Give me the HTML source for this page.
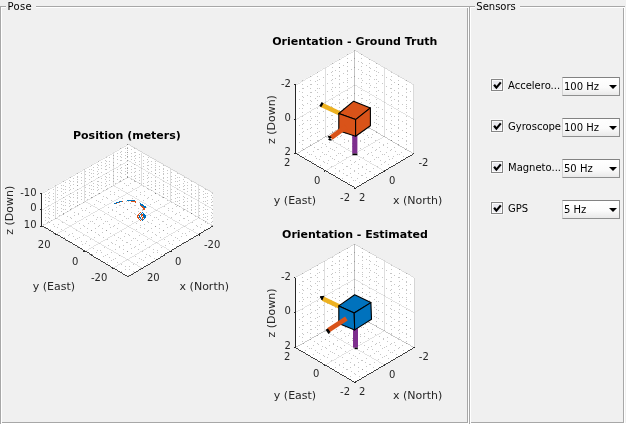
<!DOCTYPE html>
<html lang="en"><head><meta charset="utf-8"><title>Pose and Sensors</title>
<style>
html,body{margin:0;padding:0;background:#f0f0f0;}
body{width:626px;height:424px;position:relative;overflow:hidden;font-family:"DejaVu Sans", "Liberation Sans", sans-serif;font-size:10px;color:#000;}
svg{position:absolute;left:0;top:0;will-change:transform;}
svg text{font-family:"DejaVu Sans", "Liberation Sans", sans-serif;}
.row{position:absolute;left:491px;height:20px;width:130px;}
.cb{position:absolute;left:0;top:2px;width:10px;height:10px;border:1px solid #858585;background:#e9e9ef;box-shadow:inset 0 0 0 1px #fbfbfb, 0 0 0 1px rgba(255,255,255,0.55);}
.cb svg{left:0;top:0;}
.lbl{position:absolute;left:17px;top:2px;width:53px;height:14px;line-height:14px;font-size:10px;white-space:nowrap;overflow:hidden;}
.dd{position:absolute;left:71px;top:0;width:56px;height:17px;border:1px solid #8e8f8f;border-top-color:#828282;border-left-color:#d2d2d2;background:linear-gradient(#ffffff 0%,#fbfbfb 55%,#e9e9e9 100%);}
.dd span{position:absolute;left:1px;top:2px;line-height:14px;font-size:10px;white-space:nowrap;}
.dd i{position:absolute;right:2px;top:6.8px;width:0;height:0;border-left:4.7px solid transparent;border-right:4.7px solid transparent;border-top:4.8px solid #000;}
</style></head><body>
<svg width="626" height="424" viewBox="0 0 626 424">
<g shape-rendering="crispEdges">
<rect x="1" y="7" width="467" height="1" fill="#ffffff"/>
<rect x="1" y="7" width="1" height="415" fill="#ffffff"/>
<rect x="0" y="423" width="469" height="1" fill="#ffffff"/>
<rect x="468" y="7" width="1" height="417" fill="#ffffff"/>
<rect x="470" y="7" width="154" height="1" fill="#ffffff"/>
<rect x="470" y="7" width="1" height="417" fill="#ffffff"/>
<rect x="470" y="423" width="156" height="1" fill="#ffffff"/>
<rect x="624" y="7" width="1" height="417" fill="#ffffff"/>
<rect x="0" y="6" width="625" height="1" fill="#a7a7a7"/>
<rect x="0" y="6" width="1" height="418" fill="#a7a7a7"/>
<rect x="2" y="422" width="466" height="1" fill="#a7a7a7"/>
<rect x="1" y="8" width="1" height="416" fill="#ffffff"/>
<rect x="467" y="8" width="1" height="415" fill="#a7a7a7"/>
<rect x="469" y="6" width="1" height="418" fill="#a7a7a7"/>
<rect x="471" y="422" width="153" height="1" fill="#a7a7a7"/>
<rect x="623" y="8" width="1" height="415" fill="#a7a7a7"/>
</g>
<rect x="6" y="0" width="30" height="13" fill="#f0f0f0"/>
<rect x="475" y="0" width="45" height="13" fill="#f0f0f0"/>
<text x="7.6" y="10" font-size="10" text-anchor="start" font-weight="normal" fill="#000" letter-spacing="0.3">Pose</text>
<text x="476.3" y="10" font-size="10" text-anchor="start" font-weight="normal" fill="#000" >Sensors</text>
<polygon points="41.5,226 127.5,276.4 212.8,226.1 212.8,193.4 127.5,144.4 41.5,193.3" fill="#fff"/>
<g stroke="rgb(38,38,38)" stroke-opacity="0.15" stroke-width="1" fill="none" shape-rendering="crispEdges">
<path d="M113.17 185.25L198.58 234.48" stroke-width="0.87"/>
<path d="M113.17 152.55L113.17 185.25" stroke-width="1"/>
<path d="M198.58 217.93L113.17 268" stroke-width="0.86"/>
<path d="M198.58 185.23L198.58 217.93" stroke-width="1"/>
<path d="M84.5 201.55L170.15 251.25" stroke-width="0.86"/>
<path d="M84.5 168.85L84.5 201.55" stroke-width="1"/>
<path d="M170.15 201.6L84.5 251.2" stroke-width="0.87"/>
<path d="M170.15 168.9L170.15 201.6" stroke-width="1"/>
<path d="M55.83 217.85L141.72 268.02" stroke-width="0.86"/>
<path d="M55.83 185.15L55.83 217.85" stroke-width="1"/>
<path d="M141.72 185.27L55.83 234.4" stroke-width="0.87"/>
<path d="M141.72 152.57L141.72 185.27" stroke-width="1"/>
<path d="M41.5 193.3L127.5 144.4" stroke-width="0.87"/>
<path d="M127.5 144.4L212.8 193.4" stroke-width="0.87"/>
<path d="M41.5 209.65L127.5 160.75" stroke-width="0.87"/>
<path d="M127.5 160.75L212.8 209.75" stroke-width="0.87"/>
<path d="M41.5 226L127.5 177.1" stroke-width="0.87"/>
<path d="M127.5 177.1L212.8 226.1" stroke-width="0.87"/>
</g>
<path d="M127 177.5h1M131 179.5h1M135 181.5h1M139 183.5h1M143 186.5h1M147 188.5h1M151 190.5h1M155 193.5h1M159 195.5h1M163 197.5h1M167 200.5h1M171 202.5h1M175 204.5h1M179 206.5h1M183 209.5h1M187 211.5h1M191 213.5h1M195 216.5h1M199 218.5h1M203 220.5h1M207 223.5h1M211 225.5h1M127 144.5h1M127 148.5h1M127 152.5h1M127 156.5h1M127 160.5h1M127 164.5h1M127 168.5h1M127 172.5h1M127 176.5h1M212 226.5h1M208 228.5h1M204 230.5h1M200 233.5h1M196 235.5h1M192 238.5h1M188 240.5h1M184 242.5h1M180 245.5h1M176 247.5h1M172 249.5h1M168 252.5h1M164 254.5h1M160 256.5h1M156 259.5h1M152 261.5h1M148 264.5h1M144 266.5h1M140 268.5h1M136 271.5h1M132 273.5h1M128 275.5h1M212 193.5h1M212 197.5h1M212 201.5h1M212 205.5h1M212 209.5h1M212 213.5h1M212 217.5h1M212 221.5h1M212 225.5h1M120 181.5h1M124 183.5h1M128 185.5h1M132 188.5h1M136 190.5h1M140 192.5h1M144 195.5h1M148 197.5h1M152 199.5h1M156 201.5h1M160 204.5h1M164 206.5h1M168 208.5h1M172 211.5h1M176 213.5h1M180 215.5h1M184 218.5h1M188 220.5h1M192 222.5h1M196 225.5h1M200 227.5h1M204 229.5h1M120 148.5h1M120 152.5h1M120 156.5h1M120 160.5h1M120 164.5h1M120 168.5h1M120 172.5h1M120 176.5h1M120 180.5h1M205 222.5h1M201 224.5h1M197 226.5h1M193 229.5h1M189 231.5h1M185 233.5h1M181 236.5h1M177 238.5h1M173 240.5h1M169 243.5h1M165 245.5h1M161 247.5h1M157 250.5h1M153 252.5h1M149 255.5h1M145 257.5h1M141 259.5h1M137 262.5h1M133 264.5h1M129 266.5h1M125 269.5h1M121 271.5h1M205 189.5h1M205 193.5h1M205 197.5h1M205 201.5h1M205 205.5h1M205 209.5h1M205 213.5h1M205 217.5h1M205 221.5h1M106 189.5h1M110 191.5h1M114 194.5h1M118 196.5h1M122 198.5h1M126 201.5h1M130 203.5h1M134 205.5h1M138 208.5h1M142 210.5h1M146 212.5h1M150 215.5h1M154 217.5h1M158 219.5h1M162 221.5h1M166 224.5h1M170 226.5h1M174 228.5h1M178 231.5h1M182 233.5h1M186 235.5h1M190 238.5h1M106 157.5h1M106 161.5h1M106 165.5h1M106 169.5h1M106 173.5h1M106 177.5h1M106 181.5h1M106 185.5h1M187 216.5h1M183 218.5h1M179 220.5h1M175 223.5h1M171 225.5h1M167 227.5h1M163 230.5h1M159 232.5h1M155 234.5h1M151 237.5h1M147 239.5h1M143 241.5h1M139 244.5h1M135 246.5h1M131 248.5h1M127 251.5h1M123 253.5h1M119 255.5h1M115 258.5h1M111 260.5h1M107 262.5h1M191 181.5h1M191 185.5h1M191 189.5h1M191 193.5h1M191 197.5h1M191 201.5h1M191 205.5h1M191 209.5h1M99 193.5h1M103 196.5h1M107 198.5h1M111 200.5h1M115 203.5h1M119 205.5h1M123 207.5h1M127 209.5h1M131 212.5h1M135 214.5h1M139 216.5h1M143 219.5h1M147 221.5h1M151 223.5h1M155 226.5h1M159 228.5h1M167 233.5h1M171 235.5h1M175 237.5h1M179 240.5h1M183 242.5h1M98 161.5h1M98 165.5h1M98 169.5h1M98 173.5h1M98 177.5h1M98 181.5h1M98 185.5h1M98 189.5h1M98 193.5h1M183 210.5h1M179 212.5h1M175 214.5h1M171 217.5h1M167 219.5h1M163 221.5h1M159 224.5h1M151 228.5h1M147 231.5h1M143 233.5h1M139 235.5h1M135 238.5h1M131 240.5h1M127 242.5h1M123 245.5h1M119 247.5h1M115 249.5h1M111 252.5h1M107 254.5h1M103 256.5h1M99 259.5h1M184 177.5h1M184 181.5h1M184 185.5h1M184 189.5h1M184 193.5h1M184 197.5h1M184 201.5h1M184 205.5h1M184 209.5h1M92 197.5h1M96 200.5h1M100 202.5h1M104 204.5h1M108 207.5h1M112 209.5h1M116 211.5h1M120 214.5h1M124 216.5h1M128 218.5h1M132 221.5h1M136 223.5h1M140 225.5h1M144 228.5h1M148 230.5h1M152 232.5h1M156 235.5h1M160 237.5h1M164 239.5h1M168 241.5h1M172 244.5h1M176 246.5h1M91 165.5h1M91 169.5h1M91 173.5h1M91 177.5h1M91 181.5h1M91 185.5h1M91 189.5h1M91 193.5h1M91 197.5h1M176 206.5h1M172 208.5h1M168 210.5h1M164 213.5h1M160 215.5h1M156 217.5h1M152 220.5h1M148 222.5h1M144 224.5h1M140 227.5h1M136 229.5h1M132 231.5h1M128 234.5h1M124 236.5h1M120 238.5h1M116 240.5h1M112 243.5h1M108 245.5h1M104 247.5h1M100 250.5h1M96 252.5h1M92 254.5h1M177 173.5h1M177 177.5h1M177 181.5h1M177 185.5h1M177 189.5h1M177 193.5h1M177 197.5h1M177 201.5h1M177 205.5h1M77 205.5h1M81 208.5h1M85 210.5h1M89 212.5h1M93 215.5h1M97 217.5h1M101 219.5h1M105 221.5h1M109 224.5h1M113 226.5h1M117 228.5h1M121 231.5h1M125 233.5h1M129 235.5h1M133 238.5h1M137 240.5h1M141 242.5h1M145 245.5h1M149 247.5h1M153 249.5h1M157 252.5h1M161 254.5h1M77 173.5h1M77 177.5h1M77 181.5h1M77 185.5h1M77 189.5h1M77 193.5h1M77 197.5h1M77 201.5h1M162 197.5h1M158 200.5h1M154 202.5h1M150 204.5h1M146 207.5h1M142 209.5h1M138 211.5h1M134 213.5h1M130 216.5h1M126 218.5h1M122 220.5h1M118 223.5h1M114 225.5h1M110 227.5h1M106 230.5h1M102 232.5h1M98 234.5h1M94 237.5h1M90 239.5h1M86 241.5h1M82 244.5h1M78 246.5h1M163 165.5h1M163 169.5h1M163 173.5h1M163 177.5h1M163 181.5h1M163 185.5h1M163 189.5h1M163 193.5h1M70 209.5h1M74 212.5h1M78 214.5h1M82 216.5h1M86 219.5h1M90 221.5h1M94 223.5h1M98 226.5h1M102 228.5h1M110 233.5h1M114 235.5h1M118 237.5h1M122 240.5h1M126 242.5h1M130 244.5h1M134 247.5h1M138 249.5h1M142 251.5h1M146 254.5h1M150 256.5h1M154 258.5h1M70 177.5h1M70 181.5h1M70 185.5h1M70 189.5h1M70 193.5h1M70 197.5h1M70 201.5h1M70 205.5h1M151 195.5h1M147 198.5h1M143 200.5h1M139 202.5h1M135 205.5h1M131 207.5h1M123 212.5h1M119 214.5h1M115 216.5h1M111 219.5h1M107 221.5h1M103 223.5h1M99 225.5h1M95 228.5h1M91 230.5h1M87 232.5h1M83 235.5h1M79 237.5h1M75 239.5h1M71 242.5h1M155 161.5h1M155 165.5h1M155 169.5h1M155 173.5h1M155 177.5h1M155 181.5h1M155 185.5h1M155 189.5h1M63 214.5h1M67 216.5h1M71 218.5h1M75 221.5h1M79 223.5h1M83 225.5h1M87 228.5h1M95 232.5h1M99 235.5h1M103 237.5h1M107 239.5h1M111 242.5h1M115 244.5h1M119 246.5h1M123 249.5h1M131 253.5h1M135 256.5h1M139 258.5h1M143 260.5h1M147 263.5h1M63 181.5h1M63 185.5h1M63 189.5h1M63 193.5h1M63 197.5h1M63 201.5h1M63 205.5h1M63 209.5h1M63 213.5h1M148 189.5h1M144 191.5h1M140 194.5h1M136 196.5h1M132 198.5h1M128 201.5h1M124 203.5h1M120 205.5h1M116 207.5h1M112 210.5h1M108 212.5h1M104 214.5h1M100 217.5h1M96 219.5h1M92 221.5h1M88 223.5h1M84 226.5h1M80 228.5h1M76 230.5h1M72 233.5h1M68 235.5h1M64 237.5h1M148 157.5h1M148 161.5h1M148 165.5h1M148 169.5h1M148 173.5h1M148 177.5h1M148 181.5h1M148 185.5h1M49 222.5h1M53 224.5h1M57 227.5h1M61 229.5h1M65 231.5h1M69 234.5h1M73 236.5h1M77 238.5h1M81 241.5h1M85 243.5h1M89 245.5h1M93 248.5h1M97 250.5h1M101 252.5h1M105 255.5h1M109 257.5h1M113 259.5h1M117 262.5h1M121 264.5h1M125 266.5h1M129 269.5h1M133 271.5h1M48 189.5h1M48 193.5h1M48 197.5h1M48 201.5h1M48 205.5h1M48 209.5h1M48 213.5h1M48 217.5h1M48 221.5h1M134 181.5h1M130 183.5h1M126 185.5h1M122 188.5h1M118 190.5h1M114 192.5h1M110 194.5h1M106 197.5h1M102 199.5h1M98 201.5h1M94 204.5h1M90 206.5h1M86 208.5h1M82 210.5h1M78 213.5h1M74 215.5h1M70 217.5h1M66 220.5h1M62 222.5h1M58 224.5h1M54 226.5h1M50 229.5h1M134 148.5h1M134 152.5h1M134 156.5h1M134 160.5h1M134 164.5h1M134 168.5h1M134 172.5h1M134 176.5h1M134 180.5h1M41 226.5h1M45 228.5h1M49 230.5h1M53 233.5h1M57 235.5h1M61 237.5h1M65 240.5h1M69 242.5h1M73 244.5h1M77 247.5h1M81 249.5h1M85 251.5h1M89 254.5h1M93 256.5h1M97 258.5h1M101 261.5h1M105 263.5h1M109 265.5h1M113 268.5h1M117 270.5h1M121 272.5h1M125 275.5h1M41 193.5h1M41 197.5h1M41 201.5h1M41 205.5h1M41 209.5h1M41 213.5h1M41 217.5h1M41 221.5h1M41 225.5h1M123 179.5h1M119 181.5h1M115 183.5h1M111 186.5h1M107 188.5h1M103 190.5h1M95 195.5h1M87 199.5h1M83 202.5h1M79 204.5h1M75 206.5h1M71 208.5h1M67 211.5h1M59 215.5h1M55 218.5h1M51 220.5h1M47 222.5h1M43 224.5h1M41 196.5h1M45 194.5h1M49 192.5h1M53 189.5h1M57 187.5h1M61 185.5h1M65 182.5h1M69 180.5h1M73 178.5h1M77 176.5h1M81 173.5h1M85 171.5h1M89 169.5h1M93 167.5h1M97 164.5h1M101 162.5h1M105 160.5h1M109 157.5h1M113 155.5h1M117 153.5h1M121 151.5h1M125 148.5h1M127 147.5h1M131 149.5h1M135 152.5h1M139 154.5h1M143 156.5h1M147 159.5h1M151 161.5h1M155 163.5h1M159 166.5h1M163 168.5h1M167 170.5h1M171 172.5h1M175 175.5h1M179 177.5h1M183 179.5h1M187 182.5h1M191 184.5h1M195 186.5h1M199 189.5h1M203 191.5h1M207 193.5h1M211 195.5h1M41 199.5h1M45 197.5h1M49 195.5h1M53 193.5h1M57 190.5h1M61 188.5h1M65 186.5h1M69 183.5h1M73 181.5h1M77 179.5h1M81 177.5h1M85 174.5h1M89 172.5h1M93 170.5h1M97 167.5h1M101 165.5h1M105 163.5h1M109 161.5h1M113 158.5h1M117 156.5h1M121 154.5h1M125 152.5h1M127 150.5h1M131 153.5h1M135 155.5h1M139 157.5h1M143 160.5h1M147 162.5h1M151 164.5h1M155 167.5h1M159 169.5h1M163 171.5h1M167 173.5h1M171 176.5h1M175 178.5h1M179 180.5h1M183 183.5h1M187 185.5h1M191 187.5h1M195 190.5h1M199 192.5h1M203 194.5h1M207 196.5h1M211 199.5h1M41 203.5h1M45 200.5h1M49 198.5h1M53 196.5h1M57 194.5h1M61 191.5h1M65 189.5h1M69 187.5h1M73 184.5h1M77 182.5h1M81 180.5h1M85 178.5h1M89 175.5h1M93 173.5h1M97 171.5h1M101 168.5h1M105 166.5h1M109 164.5h1M113 162.5h1M117 159.5h1M121 157.5h1M125 155.5h1M127 154.5h1M131 156.5h1M135 158.5h1M139 161.5h1M143 163.5h1M147 165.5h1M151 167.5h1M155 170.5h1M159 172.5h1M163 174.5h1M167 177.5h1M171 179.5h1M175 181.5h1M179 184.5h1M183 186.5h1M187 188.5h1M191 190.5h1M195 193.5h1M199 195.5h1M203 197.5h1M207 200.5h1M211 202.5h1M41 206.5h1M45 204.5h1M49 201.5h1M53 199.5h1M57 197.5h1M61 195.5h1M65 192.5h1M69 190.5h1M73 188.5h1M81 183.5h1M85 181.5h1M89 179.5h1M93 176.5h1M97 174.5h1M101 172.5h1M105 169.5h1M109 167.5h1M113 165.5h1M117 163.5h1M121 160.5h1M125 158.5h1M127 157.5h1M131 159.5h1M135 162.5h1M139 164.5h1M143 166.5h1M147 168.5h1M151 171.5h1M159 175.5h1M163 178.5h1M167 180.5h1M171 182.5h1M175 185.5h1M179 187.5h1M183 189.5h1M187 191.5h1M191 194.5h1M195 196.5h1M199 198.5h1M203 201.5h1M207 203.5h1M211 205.5h1M41 212.5h1M45 210.5h1M49 208.5h1M53 206.5h1M57 203.5h1M61 201.5h1M65 199.5h1M69 196.5h1M73 194.5h1M77 192.5h1M81 190.5h1M85 187.5h1M89 185.5h1M93 183.5h1M97 181.5h1M101 178.5h1M105 176.5h1M109 174.5h1M113 171.5h1M117 169.5h1M121 167.5h1M125 165.5h1M131 166.5h1M135 168.5h1M139 170.5h1M143 173.5h1M147 175.5h1M151 177.5h1M155 180.5h1M159 182.5h1M163 184.5h1M167 186.5h1M171 189.5h1M175 191.5h1M179 193.5h1M183 196.5h1M187 198.5h1M191 200.5h1M195 203.5h1M199 205.5h1M203 207.5h1M207 209.5h1M211 212.5h1M41 216.5h1M45 213.5h1M49 211.5h1M53 209.5h1M57 207.5h1M61 204.5h1M65 202.5h1M69 200.5h1M73 197.5h1M77 195.5h1M81 193.5h1M85 191.5h1M89 188.5h1M93 186.5h1M97 184.5h1M101 182.5h1M105 179.5h1M109 177.5h1M113 175.5h1M117 172.5h1M121 170.5h1M125 168.5h1M127 167.5h1M131 169.5h1M135 171.5h1M139 174.5h1M143 176.5h1M147 178.5h1M151 181.5h1M155 183.5h1M159 185.5h1M163 187.5h1M167 190.5h1M171 192.5h1M175 194.5h1M179 197.5h1M183 199.5h1M187 201.5h1M191 204.5h1M195 206.5h1M199 208.5h1M203 210.5h1M207 213.5h1M211 215.5h1M41 219.5h1M45 217.5h1M49 214.5h1M53 212.5h1M57 210.5h1M61 208.5h1M65 205.5h1M69 203.5h1M73 201.5h1M77 198.5h1M81 196.5h1M85 194.5h1M89 192.5h1M93 189.5h1M97 187.5h1M101 185.5h1M105 183.5h1M109 180.5h1M113 178.5h1M117 176.5h1M121 173.5h1M125 171.5h1M127 170.5h1M131 172.5h1M135 175.5h1M139 177.5h1M143 179.5h1M147 182.5h1M151 184.5h1M155 186.5h1M159 188.5h1M163 191.5h1M167 193.5h1M171 195.5h1M175 198.5h1M179 200.5h1M183 202.5h1M187 205.5h1M191 207.5h1M195 209.5h1M199 211.5h1M203 214.5h1M207 216.5h1M211 218.5h1M41 222.5h1M45 220.5h1M49 218.5h1M53 215.5h1M57 213.5h1M61 211.5h1M65 209.5h1M69 206.5h1M73 204.5h1M77 202.5h1M81 199.5h1M85 197.5h1M89 195.5h1M93 193.5h1M97 190.5h1M101 188.5h1M105 186.5h1M109 184.5h1M113 181.5h1M117 179.5h1M121 177.5h1M125 174.5h1M127 173.5h1M131 176.5h1M135 178.5h1M139 180.5h1M143 183.5h1M147 185.5h1M151 187.5h1M159 192.5h1M163 194.5h1M167 196.5h1M171 199.5h1M175 201.5h1M179 203.5h1M183 205.5h1M187 208.5h1M191 210.5h1M195 212.5h1M199 215.5h1M203 217.5h1M207 219.5h1M211 222.5h1" stroke="rgb(26,26,26)" stroke-opacity="0.25" stroke-width="1" fill="none" shape-rendering="crispEdges"/>
<path d="M127 177.5h1M155 193.5h1M163 197.5h1M191 213.5h1M127 144.5h1M127 148.5h1M127 152.5h1M127 156.5h1M127 160.5h1M127 164.5h1M127 168.5h1M127 172.5h1M127 176.5h1M163 230.5h1M127 251.5h1M99 193.5h1M127 209.5h1M155 226.5h1M91 197.5h1M77 205.5h1M77 185.5h1M106 230.5h1M70 209.5h1M91 230.5h1M155 173.5h1M155 189.5h1M63 213.5h1" stroke="rgb(26,26,26)" stroke-opacity="0.25" stroke-width="1" fill="none" shape-rendering="crispEdges"/>
<path d="M155 193.5h1M191 213.5h1M127 164.5h1" stroke="rgb(26,26,26)" stroke-opacity="0.25" stroke-width="1" fill="none" shape-rendering="crispEdges"/>
<g fill="none" stroke-width="1" shape-rendering="crispEdges">
<path d="M114.9 203.7 L123 201.2 M130.5 201.5 L135.4 201.5 L135.6 202.6" stroke="#d95319"/>
<path d="M140.6 204.8 L143.9 208.2 L144.4 209.8" stroke="#d95319" stroke-width="1.7"/>
<path d="M113.8 203.7 L122 201.2 M127 200.5 L135 200.5" stroke="#0072bd"/>
<path d="M140 203.5 L146.2 207.8" stroke="#0072bd" stroke-width="1.7"/>
<path d="M140.5 212.3 L143.9 216.4 L140.5 220.6 L137.2 216.4 Z" stroke="#d95319"/>
<path d="M142.5 212.3 L145.9 216.4 L142.5 220.6 L139.1 216.4 Z" stroke="#0072bd"/>
<path d="M141.5 214 L141.5 217 M142.5 217 L142.5 219.5" stroke="#d95319"/>
<path d="M143.5 213.5 L143.5 216.5 M144.5 214 L144.5 216.5" stroke="#0072bd"/>
</g>
<g stroke="#262626" stroke-width="1" fill="none" shape-rendering="crispEdges">
<path d="M41.5 193.3L41.5 226" stroke-width="1"/>
<path d="M41.5 226L127.5 276.4" stroke-width="0.86"/>
<path d="M127.5 276.4L212.8 226.1" stroke-width="0.86"/>
<path d="M41.5 193.3L39.9 193.3"/>
<path d="M41.5 209.65L39.9 209.65"/>
<path d="M41.5 226L39.9 226"/>
<path d="M113.17 268L111.79 268.81"/>
<path d="M84.5 251.2L83.12 252.01"/>
<path d="M55.83 234.4L54.46 235.21"/>
<path d="M198.58 234.48L199.96 235.29"/>
<path d="M170.15 251.25L171.53 252.06"/>
<path d="M141.72 268.02L143.1 268.83"/>
</g>
<text x="36.6" y="195.5" font-size="10" text-anchor="end" font-weight="normal" fill="#262626" >-10</text>
<text x="36.6" y="211.4" font-size="10" text-anchor="end" font-weight="normal" fill="#262626" >0</text>
<text x="36.6" y="227.8" font-size="10" text-anchor="end" font-weight="normal" fill="#262626" >10</text>
<text x="44.2" y="247.8" font-size="10" text-anchor="middle" font-weight="normal" fill="#262626" >20</text>
<text x="75.3" y="265.2" font-size="10" text-anchor="middle" font-weight="normal" fill="#262626" >0</text>
<text x="99.1" y="280.9" font-size="10" text-anchor="middle" font-weight="normal" fill="#262626" >-20</text>
<text x="153.3" y="280.8" font-size="10" text-anchor="middle" font-weight="normal" fill="#262626" >20</text>
<text x="178.1" y="265" font-size="10" text-anchor="middle" font-weight="normal" fill="#262626" >0</text>
<text x="212.2" y="247.8" font-size="10" text-anchor="middle" font-weight="normal" fill="#262626" >-20</text>
<text x="53.9" y="290.1" font-size="11" text-anchor="middle" font-weight="normal" fill="#262626" >y (East)</text>
<text x="204.3" y="289.8" font-size="11" text-anchor="middle" font-weight="normal" fill="#262626" >x (North)</text>
<text transform="translate(13 210.2) rotate(-90)" font-size="11" text-anchor="middle" fill="#262626">z (Down)</text>
<text x="126.9" y="139" font-size="11" text-anchor="middle" font-weight="bold" fill="#000" >Position (meters)</text>
<polygon points="295.5,153.8 354.9,188.4 413.6,153.8 413.6,84.8 354.52,50.25 295.5,84.8" fill="#fff"/>
<g stroke="rgb(38,38,38)" stroke-opacity="0.15" stroke-width="1" fill="none" shape-rendering="crispEdges">
<path d="M354.52 119.25L413.6 153.8" stroke-width="0.86"/>
<path d="M354.52 50.25L354.52 119.25" stroke-width="1"/>
<path d="M413.6 153.8L354.9 188.4" stroke-width="0.86"/>
<path d="M413.6 84.8L413.6 153.8" stroke-width="1"/>
<path d="M325.01 136.53L384.25 171.1" stroke-width="0.86"/>
<path d="M325.01 67.53L325.01 136.53" stroke-width="1"/>
<path d="M384.06 136.53L325.2 171.1" stroke-width="0.86"/>
<path d="M384.06 67.53L384.06 136.53" stroke-width="1"/>
<path d="M295.5 153.8L354.9 188.4" stroke-width="0.86"/>
<path d="M295.5 84.8L295.5 153.8" stroke-width="1"/>
<path d="M354.52 119.25L295.5 153.8" stroke-width="0.86"/>
<path d="M354.52 50.25L354.52 119.25" stroke-width="1"/>
<path d="M295.5 84.8L354.52 50.25" stroke-width="0.86"/>
<path d="M354.52 50.25L413.6 84.8" stroke-width="0.86"/>
<path d="M295.5 119.3L354.52 84.75" stroke-width="0.86"/>
<path d="M354.52 84.75L413.6 119.3" stroke-width="0.86"/>
<path d="M295.5 153.8L354.52 119.25" stroke-width="0.86"/>
<path d="M354.52 119.25L413.6 153.8" stroke-width="0.86"/>
</g>
<path d="M347 123.5h1M351 126.5h1M355 128.5h1M359 130.5h1M363 133.5h1M367 135.5h1M371 137.5h1M375 140.5h1M379 142.5h1M383 144.5h1M387 147.5h1M391 149.5h1M395 151.5h1M399 154.5h1M403 156.5h1M347 54.5h1M347 58.5h1M347 62.5h1M347 66.5h1M347 70.5h1M347 74.5h1M347 78.5h1M347 82.5h1M347 86.5h1M347 90.5h1M347 94.5h1M347 98.5h1M347 102.5h1M347 106.5h1M347 110.5h1M347 114.5h1M347 118.5h1M347 122.5h1M405 149.5h1M401 152.5h1M397 154.5h1M393 156.5h1M389 159.5h1M385 161.5h1M381 164.5h1M377 166.5h1M373 168.5h1M369 171.5h1M365 173.5h1M361 175.5h1M357 178.5h1M353 180.5h1M349 182.5h1M406 80.5h1M406 84.5h1M406 88.5h1M406 92.5h1M406 96.5h1M406 100.5h1M406 104.5h1M406 108.5h1M406 112.5h1M406 116.5h1M406 120.5h1M406 124.5h1M406 128.5h1M406 132.5h1M406 136.5h1M406 140.5h1M406 144.5h1M406 148.5h1M340 128.5h1M344 130.5h1M348 132.5h1M352 135.5h1M356 137.5h1M360 140.5h1M364 142.5h1M368 144.5h1M372 147.5h1M376 149.5h1M380 151.5h1M384 154.5h1M388 156.5h1M392 158.5h1M396 161.5h1M339 59.5h1M339 63.5h1M339 67.5h1M339 71.5h1M339 75.5h1M339 79.5h1M339 83.5h1M339 87.5h1M339 91.5h1M339 95.5h1M339 99.5h1M339 103.5h1M339 107.5h1M339 111.5h1M339 115.5h1M339 119.5h1M339 123.5h1M339 127.5h1M398 145.5h1M394 147.5h1M390 150.5h1M386 152.5h1M382 154.5h1M378 157.5h1M374 159.5h1M370 161.5h1M366 164.5h1M362 166.5h1M358 168.5h1M354 171.5h1M350 173.5h1M346 175.5h1M342 178.5h1M398 76.5h1M398 80.5h1M398 84.5h1M398 88.5h1M398 92.5h1M398 96.5h1M398 100.5h1M398 104.5h1M398 108.5h1M398 112.5h1M398 116.5h1M398 120.5h1M398 124.5h1M398 128.5h1M398 132.5h1M398 136.5h1M398 140.5h1M398 144.5h1M332 132.5h1M336 134.5h1M340 136.5h1M344 139.5h1M348 141.5h1M352 143.5h1M356 146.5h1M360 148.5h1M364 150.5h1M368 153.5h1M372 155.5h1M376 157.5h1M380 160.5h1M384 162.5h1M388 164.5h1M332 63.5h1M332 67.5h1M332 71.5h1M332 75.5h1M332 79.5h1M332 83.5h1M332 87.5h1M332 91.5h1M332 95.5h1M332 99.5h1M332 103.5h1M332 107.5h1M332 111.5h1M332 115.5h1M332 119.5h1M332 123.5h1M332 127.5h1M332 131.5h1M391 140.5h1M387 143.5h1M383 145.5h1M379 147.5h1M375 150.5h1M371 152.5h1M367 154.5h1M363 157.5h1M359 159.5h1M355 161.5h1M351 164.5h1M347 166.5h1M343 169.5h1M339 171.5h1M335 173.5h1M391 72.5h1M391 76.5h1M391 80.5h1M391 84.5h1M391 88.5h1M391 92.5h1M391 96.5h1M391 100.5h1M391 104.5h1M391 108.5h1M391 112.5h1M391 116.5h1M391 120.5h1M391 124.5h1M391 128.5h1M391 132.5h1M391 136.5h1M318 141.5h1M322 143.5h1M326 146.5h1M330 148.5h1M334 150.5h1M338 153.5h1M342 155.5h1M346 157.5h1M350 160.5h1M354 162.5h1M358 164.5h1M362 167.5h1M366 169.5h1M370 171.5h1M374 174.5h1M317 72.5h1M317 76.5h1M317 80.5h1M317 84.5h1M317 88.5h1M317 92.5h1M317 96.5h1M317 100.5h1M317 104.5h1M317 108.5h1M317 112.5h1M317 116.5h1M317 120.5h1M317 124.5h1M317 128.5h1M317 132.5h1M317 136.5h1M317 140.5h1M376 132.5h1M372 134.5h1M368 137.5h1M364 139.5h1M360 141.5h1M356 144.5h1M352 146.5h1M348 148.5h1M344 151.5h1M340 153.5h1M336 155.5h1M332 158.5h1M328 160.5h1M324 162.5h1M320 165.5h1M376 63.5h1M376 67.5h1M376 71.5h1M376 75.5h1M376 79.5h1M376 83.5h1M376 87.5h1M376 91.5h1M376 95.5h1M376 99.5h1M376 103.5h1M376 107.5h1M376 111.5h1M376 115.5h1M376 119.5h1M376 123.5h1M376 127.5h1M376 131.5h1M310 145.5h1M314 147.5h1M318 149.5h1M322 152.5h1M326 154.5h1M330 156.5h1M334 159.5h1M338 161.5h1M342 163.5h1M346 166.5h1M350 168.5h1M354 170.5h1M358 173.5h1M362 175.5h1M366 177.5h1M310 76.5h1M310 80.5h1M310 84.5h1M310 88.5h1M310 92.5h1M310 96.5h1M310 100.5h1M310 104.5h1M310 108.5h1M310 112.5h1M310 116.5h1M310 120.5h1M310 124.5h1M310 128.5h1M310 132.5h1M310 136.5h1M310 140.5h1M310 144.5h1M368 128.5h1M364 130.5h1M360 133.5h1M356 135.5h1M352 137.5h1M348 140.5h1M344 142.5h1M340 144.5h1M336 147.5h1M332 149.5h1M328 151.5h1M324 154.5h1M320 156.5h1M316 158.5h1M312 161.5h1M369 59.5h1M369 63.5h1M369 67.5h1M369 71.5h1M369 75.5h1M369 79.5h1M369 83.5h1M369 87.5h1M369 91.5h1M369 95.5h1M369 99.5h1M369 103.5h1M369 107.5h1M369 111.5h1M369 115.5h1M369 119.5h1M369 123.5h1M369 127.5h1M303 149.5h1M307 152.5h1M311 154.5h1M315 156.5h1M319 159.5h1M323 161.5h1M327 163.5h1M331 166.5h1M335 168.5h1M339 170.5h1M343 173.5h1M347 175.5h1M351 177.5h1M355 180.5h1M359 182.5h1M302 80.5h1M302 84.5h1M302 88.5h1M302 92.5h1M302 96.5h1M302 100.5h1M302 104.5h1M302 108.5h1M302 112.5h1M302 116.5h1M302 120.5h1M302 124.5h1M302 128.5h1M302 132.5h1M302 136.5h1M302 140.5h1M302 144.5h1M302 148.5h1M361 123.5h1M357 126.5h1M353 128.5h1M349 130.5h1M345 133.5h1M341 135.5h1M337 137.5h1M333 140.5h1M329 142.5h1M325 144.5h1M321 147.5h1M317 149.5h1M313 151.5h1M309 154.5h1M305 156.5h1M361 54.5h1M361 58.5h1M361 62.5h1M361 66.5h1M361 70.5h1M361 74.5h1M361 78.5h1M361 82.5h1M361 86.5h1M361 90.5h1M361 94.5h1M361 98.5h1M361 102.5h1M361 106.5h1M361 110.5h1M361 114.5h1M361 118.5h1M361 122.5h1M295 93.5h1M299 91.5h1M303 88.5h1M307 86.5h1M311 84.5h1M315 81.5h1M319 79.5h1M323 77.5h1M327 74.5h1M331 72.5h1M335 70.5h1M343 65.5h1M351 60.5h1M354 58.5h1M358 61.5h1M362 63.5h1M366 65.5h1M370 68.5h1M374 70.5h1M378 72.5h1M382 75.5h1M386 77.5h1M390 79.5h1M394 82.5h1M402 86.5h1M406 89.5h1M410 91.5h1M295 102.5h1M299 99.5h1M303 97.5h1M307 95.5h1M311 92.5h1M315 90.5h1M319 88.5h1M323 85.5h1M327 83.5h1M331 80.5h1M335 78.5h1M339 76.5h1M343 73.5h1M347 71.5h1M351 69.5h1M354 67.5h1M358 69.5h1M362 72.5h1M366 74.5h1M370 76.5h1M374 79.5h1M378 81.5h1M382 83.5h1M386 86.5h1M390 88.5h1M394 90.5h1M398 93.5h1M402 95.5h1M406 97.5h1M410 100.5h1M295 110.5h1M299 108.5h1M303 105.5h1M307 103.5h1M311 101.5h1M315 98.5h1M319 96.5h1M323 94.5h1M327 91.5h1M331 89.5h1M335 87.5h1M339 84.5h1M343 82.5h1M347 80.5h1M351 77.5h1M354 76.5h1M358 78.5h1M362 80.5h1M366 83.5h1M370 85.5h1M374 87.5h1M378 90.5h1M382 92.5h1M386 94.5h1M390 97.5h1M394 99.5h1M398 101.5h1M402 104.5h1M406 106.5h1M410 108.5h1M295 127.5h1M299 125.5h1M303 123.5h1M307 120.5h1M311 118.5h1M315 116.5h1M319 113.5h1M323 111.5h1M327 109.5h1M331 106.5h1M335 104.5h1M339 102.5h1M343 99.5h1M347 97.5h1M351 95.5h1M354 93.5h1M358 95.5h1M362 98.5h1M366 100.5h1M370 102.5h1M374 105.5h1M378 107.5h1M382 109.5h1M386 112.5h1M390 114.5h1M394 116.5h1M398 119.5h1M402 121.5h1M406 123.5h1M410 126.5h1M295 136.5h1M299 134.5h1M303 131.5h1M307 129.5h1M311 127.5h1M315 124.5h1M319 122.5h1M323 120.5h1M327 117.5h1M331 115.5h1M335 113.5h1M339 110.5h1M343 108.5h1M351 103.5h1M354 101.5h1M358 104.5h1M362 106.5h1M366 109.5h1M370 111.5h1M374 113.5h1M378 116.5h1M382 118.5h1M386 120.5h1M390 123.5h1M394 125.5h1M398 127.5h1M402 130.5h1M410 134.5h1M295 145.5h1M299 142.5h1M303 140.5h1M307 138.5h1M311 135.5h1M315 133.5h1M319 131.5h1M323 128.5h1M327 126.5h1M331 124.5h1M335 121.5h1M343 117.5h1M351 112.5h1M354 110.5h1M358 112.5h1M362 115.5h1M366 117.5h1M370 119.5h1M374 122.5h1M378 124.5h1M382 126.5h1M386 129.5h1M390 131.5h1M394 134.5h1M402 138.5h1M406 141.5h1M410 143.5h1" stroke="rgb(26,26,26)" stroke-opacity="0.25" stroke-width="1" fill="none" shape-rendering="crispEdges"/>
<path d="M347 62.5h1M347 106.5h1M347 114.5h1M406 132.5h1M339 67.5h1M339 119.5h1M398 84.5h1M398 136.5h1M391 140.5h1" stroke="rgb(26,26,26)" stroke-opacity="0.25" stroke-width="1" fill="none" shape-rendering="crispEdges"/>
<line x1="321.6" y1="104.8" x2="341" y2="114" stroke="#edb120" stroke-width="4.6"/>
<path d="M320.3 106.6 L322.6 102.6" stroke="#000" stroke-width="2.2"/>
<line x1="354.8" y1="130" x2="354.8" y2="153.6" stroke="#7e2f8e" stroke-width="5.2"/>
<path d="M352.4 154.4 L357.4 154.4" stroke="#000" stroke-width="1.7"/>
<g stroke="#000" stroke-width="1.1" stroke-linejoin="round" fill="#d95319">
<polygon points="353.6,101.2 370.4,107.9 355.6,119.6 338.8,113.5"/>
<polygon points="338.8,113.5 355.6,119.6 355.6,136.2 338.8,130.8"/>
<polygon points="355.6,119.6 370.4,107.9 370.4,125.8 355.6,136.2"/>
</g>
<line x1="331" y1="137.8" x2="346" y2="126.8" stroke="#d95319" stroke-width="5"/>
<path d="M328.2 136.2 L331.4 140.4 M328.4 139.6 L331.2 137 M329.8 136 L329.8 140.6" stroke="#000" stroke-width="1.3"/>
<g stroke="#262626" stroke-width="1" fill="none" shape-rendering="crispEdges">
<path d="M295.5 84.8L295.5 153.8" stroke-width="1"/>
<path d="M295.5 153.8L354.9 188.4" stroke-width="0.86"/>
<path d="M354.9 188.4L413.6 153.8" stroke-width="0.86"/>
<path d="M295.5 84.8L294.4 84.8"/>
<path d="M295.5 119.3L294.4 119.3"/>
<path d="M295.5 153.8L294.4 153.8"/>
<path d="M354.9 188.4L353.95 188.96"/>
<path d="M325.2 171.1L324.25 171.66"/>
<path d="M295.5 153.8L294.55 154.36"/>
<path d="M413.6 153.8L414.55 154.35"/>
<path d="M384.25 171.1L385.2 171.65"/>
<path d="M354.9 188.4L355.85 188.95"/>
</g>
<text x="290.9" y="87" font-size="10" text-anchor="end" font-weight="normal" fill="#262626" >-2</text>
<text x="290.9" y="121.4" font-size="10" text-anchor="end" font-weight="normal" fill="#262626" >0</text>
<text x="290.9" y="155.2" font-size="10" text-anchor="end" font-weight="normal" fill="#262626" >2</text>
<text x="287.2" y="166" font-size="10" text-anchor="middle" font-weight="normal" fill="#262626" >2</text>
<text x="317.1" y="183.9" font-size="10" text-anchor="middle" font-weight="normal" fill="#262626" >0</text>
<text x="345.1" y="201.1" font-size="10" text-anchor="middle" font-weight="normal" fill="#262626" >-2</text>
<text x="362.1" y="201.1" font-size="10" text-anchor="middle" font-weight="normal" fill="#262626" >2</text>
<text x="392.1" y="183.9" font-size="10" text-anchor="middle" font-weight="normal" fill="#262626" >0</text>
<text x="423.4" y="166.2" font-size="10" text-anchor="middle" font-weight="normal" fill="#262626" >-2</text>
<text x="295" y="204.3" font-size="11" text-anchor="middle" font-weight="normal" fill="#262626" >y (East)</text>
<text x="417.7" y="204.3" font-size="11" text-anchor="middle" font-weight="normal" fill="#262626" >x (North)</text>
<text transform="translate(275 119.6) rotate(-90)" font-size="11" text-anchor="middle" fill="#262626">z (Down)</text>
<text x="354.85" y="44.8" font-size="11" text-anchor="middle" font-weight="bold" fill="#000" >Orientation - Ground Truth</text>
<polygon points="295.4,347.6 354.8,382.4 414.2,347.6 414.2,277.6 354.55,244.2 295.4,277.6" fill="#fff"/>
<g stroke="rgb(38,38,38)" stroke-opacity="0.15" stroke-width="1" fill="none" shape-rendering="crispEdges">
<path d="M354.55 314.2L414.2 347.6" stroke-width="0.87"/>
<path d="M354.55 244.2L354.55 314.2" stroke-width="1"/>
<path d="M414.2 347.6L354.8 382.4" stroke-width="0.86"/>
<path d="M414.2 277.6L414.2 347.6" stroke-width="1"/>
<path d="M324.98 330.9L384.5 365" stroke-width="0.87"/>
<path d="M324.98 260.9L324.98 330.9" stroke-width="1"/>
<path d="M384.38 330.9L325.1 365" stroke-width="0.87"/>
<path d="M384.38 260.9L384.38 330.9" stroke-width="1"/>
<path d="M295.4 347.6L354.8 382.4" stroke-width="0.86"/>
<path d="M295.4 277.6L295.4 347.6" stroke-width="1"/>
<path d="M354.55 314.2L295.4 347.6" stroke-width="0.87"/>
<path d="M354.55 244.2L354.55 314.2" stroke-width="1"/>
<path d="M295.4 277.6L354.55 244.2" stroke-width="0.87"/>
<path d="M354.55 244.2L414.2 277.6" stroke-width="0.87"/>
<path d="M295.4 312.6L354.55 279.2" stroke-width="0.87"/>
<path d="M354.55 279.2L414.2 312.6" stroke-width="0.87"/>
<path d="M295.4 347.6L354.55 314.2" stroke-width="0.87"/>
<path d="M354.55 314.2L414.2 347.6" stroke-width="0.87"/>
</g>
<path d="M347 318.5h1M351 320.5h1M355 323.5h1M359 325.5h1M363 327.5h1M367 329.5h1M371 332.5h1M375 334.5h1M379 336.5h1M383 338.5h1M387 341.5h1M391 343.5h1M395 345.5h1M399 347.5h1M403 350.5h1M347 248.5h1M347 252.5h1M347 256.5h1M347 260.5h1M347 264.5h1M347 268.5h1M347 272.5h1M347 276.5h1M347 280.5h1M347 284.5h1M347 288.5h1M347 292.5h1M347 296.5h1M347 300.5h1M347 304.5h1M347 308.5h1M347 312.5h1M347 316.5h1M406 343.5h1M402 345.5h1M398 348.5h1M394 350.5h1M390 352.5h1M386 355.5h1M382 357.5h1M378 359.5h1M374 362.5h1M370 364.5h1M366 366.5h1M362 369.5h1M358 371.5h1M354 373.5h1M350 376.5h1M406 273.5h1M406 277.5h1M406 281.5h1M406 285.5h1M406 289.5h1M406 293.5h1M406 297.5h1M406 301.5h1M406 305.5h1M406 309.5h1M406 313.5h1M406 317.5h1M406 321.5h1M406 325.5h1M406 329.5h1M406 333.5h1M406 337.5h1M406 341.5h1M340 322.5h1M344 325.5h1M348 327.5h1M352 329.5h1M356 332.5h1M360 334.5h1M364 336.5h1M368 338.5h1M372 341.5h1M376 343.5h1M380 345.5h1M384 347.5h1M388 350.5h1M392 352.5h1M396 354.5h1M339 252.5h1M339 256.5h1M339 260.5h1M339 264.5h1M339 268.5h1M339 272.5h1M339 276.5h1M339 280.5h1M339 284.5h1M339 288.5h1M339 292.5h1M339 296.5h1M339 300.5h1M339 304.5h1M339 308.5h1M339 312.5h1M339 316.5h1M339 320.5h1M398 339.5h1M394 342.5h1M390 344.5h1M386 346.5h1M382 348.5h1M378 351.5h1M374 353.5h1M370 355.5h1M366 358.5h1M362 360.5h1M358 362.5h1M354 365.5h1M350 367.5h1M346 369.5h1M342 372.5h1M399 269.5h1M399 273.5h1M399 277.5h1M399 281.5h1M399 285.5h1M399 289.5h1M399 293.5h1M399 297.5h1M399 301.5h1M399 305.5h1M399 309.5h1M399 313.5h1M399 317.5h1M399 321.5h1M399 325.5h1M399 329.5h1M399 333.5h1M399 337.5h1M332 326.5h1M336 329.5h1M340 331.5h1M344 333.5h1M348 335.5h1M352 338.5h1M356 340.5h1M360 342.5h1M364 345.5h1M368 347.5h1M372 349.5h1M376 351.5h1M380 354.5h1M384 356.5h1M388 358.5h1M332 257.5h1M332 261.5h1M332 265.5h1M332 269.5h1M332 273.5h1M332 277.5h1M332 281.5h1M332 285.5h1M332 289.5h1M332 293.5h1M332 297.5h1M332 301.5h1M332 305.5h1M332 309.5h1M332 313.5h1M332 317.5h1M332 321.5h1M332 325.5h1M391 335.5h1M387 337.5h1M383 339.5h1M379 342.5h1M375 344.5h1M371 346.5h1M367 349.5h1M363 351.5h1M359 353.5h1M355 356.5h1M351 358.5h1M347 360.5h1M343 363.5h1M339 365.5h1M335 367.5h1M391 265.5h1M391 269.5h1M391 273.5h1M391 277.5h1M391 281.5h1M391 285.5h1M391 289.5h1M391 293.5h1M391 297.5h1M391 301.5h1M391 305.5h1M391 309.5h1M391 313.5h1M391 317.5h1M391 321.5h1M391 325.5h1M391 329.5h1M391 333.5h1M317 335.5h1M321 337.5h1M325 339.5h1M329 341.5h1M333 344.5h1M337 346.5h1M341 348.5h1M345 351.5h1M349 353.5h1M353 355.5h1M357 358.5h1M361 360.5h1M365 362.5h1M369 364.5h1M373 367.5h1M317 265.5h1M317 269.5h1M317 273.5h1M317 277.5h1M317 281.5h1M317 285.5h1M317 289.5h1M317 293.5h1M317 297.5h1M317 301.5h1M317 305.5h1M317 309.5h1M317 313.5h1M317 317.5h1M317 321.5h1M317 325.5h1M317 329.5h1M317 333.5h1M376 326.5h1M372 329.5h1M368 331.5h1M364 333.5h1M360 336.5h1M356 338.5h1M352 340.5h1M348 342.5h1M344 345.5h1M340 347.5h1M336 349.5h1M332 352.5h1M328 354.5h1M324 356.5h1M320 359.5h1M376 257.5h1M376 261.5h1M376 265.5h1M376 269.5h1M376 273.5h1M376 277.5h1M376 281.5h1M376 285.5h1M376 289.5h1M376 293.5h1M376 297.5h1M376 301.5h1M376 305.5h1M376 309.5h1M376 313.5h1M376 317.5h1M376 321.5h1M376 325.5h1M310 339.5h1M314 341.5h1M318 344.5h1M322 346.5h1M326 348.5h1M330 351.5h1M334 353.5h1M338 355.5h1M342 357.5h1M346 360.5h1M350 362.5h1M354 364.5h1M358 367.5h1M366 371.5h1M310 269.5h1M310 273.5h1M310 277.5h1M310 281.5h1M310 285.5h1M310 289.5h1M310 293.5h1M310 297.5h1M310 301.5h1M310 305.5h1M310 309.5h1M310 313.5h1M310 317.5h1M310 321.5h1M310 325.5h1M310 329.5h1M310 333.5h1M310 337.5h1M369 322.5h1M365 324.5h1M361 327.5h1M357 329.5h1M353 331.5h1M349 333.5h1M345 336.5h1M341 338.5h1M337 340.5h1M333 343.5h1M329 345.5h1M325 347.5h1M321 349.5h1M317 352.5h1M313 354.5h1M369 252.5h1M369 256.5h1M369 260.5h1M369 264.5h1M369 268.5h1M369 272.5h1M369 276.5h1M369 280.5h1M369 284.5h1M369 288.5h1M369 292.5h1M369 296.5h1M369 300.5h1M369 304.5h1M369 308.5h1M369 312.5h1M369 316.5h1M369 320.5h1M303 343.5h1M307 346.5h1M311 348.5h1M315 350.5h1M319 353.5h1M323 355.5h1M327 357.5h1M331 360.5h1M335 362.5h1M339 364.5h1M343 367.5h1M347 369.5h1M351 371.5h1M355 374.5h1M359 376.5h1M302 273.5h1M302 277.5h1M302 281.5h1M302 285.5h1M302 289.5h1M302 293.5h1M302 297.5h1M302 301.5h1M302 305.5h1M302 309.5h1M302 313.5h1M302 317.5h1M302 321.5h1M302 325.5h1M302 329.5h1M302 333.5h1M302 337.5h1M302 341.5h1M361 318.5h1M357 320.5h1M353 323.5h1M349 325.5h1M345 327.5h1M341 330.5h1M337 332.5h1M333 334.5h1M329 336.5h1M321 341.5h1M317 343.5h1M313 345.5h1M309 348.5h1M305 350.5h1M362 248.5h1M362 252.5h1M362 256.5h1M362 260.5h1M362 264.5h1M362 268.5h1M362 272.5h1M362 276.5h1M362 280.5h1M362 284.5h1M362 288.5h1M362 292.5h1M362 296.5h1M362 300.5h1M362 304.5h1M362 308.5h1M362 312.5h1M362 316.5h1M295 286.5h1M299 284.5h1M303 281.5h1M307 279.5h1M311 277.5h1M315 275.5h1M319 272.5h1M323 270.5h1M327 268.5h1M331 265.5h1M335 263.5h1M339 261.5h1M343 259.5h1M351 254.5h1M354 252.5h1M358 255.5h1M362 257.5h1M366 259.5h1M370 261.5h1M374 264.5h1M378 266.5h1M382 268.5h1M386 270.5h1M390 273.5h1M394 275.5h1M398 277.5h1M402 279.5h1M406 282.5h1M410 284.5h1M295 295.5h1M299 292.5h1M303 290.5h1M307 288.5h1M311 286.5h1M315 283.5h1M319 281.5h1M323 279.5h1M327 276.5h1M331 274.5h1M335 272.5h1M339 270.5h1M343 267.5h1M347 265.5h1M351 263.5h1M354 261.5h1M358 263.5h1M362 266.5h1M366 268.5h1M370 270.5h1M374 272.5h1M378 275.5h1M382 277.5h1M386 279.5h1M390 281.5h1M394 284.5h1M398 286.5h1M402 288.5h1M406 290.5h1M410 293.5h1M295 303.5h1M299 301.5h1M303 299.5h1M307 297.5h1M311 294.5h1M315 292.5h1M319 290.5h1M323 287.5h1M327 285.5h1M331 283.5h1M335 281.5h1M339 278.5h1M343 276.5h1M347 274.5h1M351 272.5h1M354 270.5h1M358 272.5h1M362 274.5h1M366 277.5h1M370 279.5h1M374 281.5h1M378 283.5h1M382 286.5h1M386 288.5h1M390 290.5h1M394 292.5h1M398 295.5h1M402 297.5h1M406 299.5h1M410 301.5h1M295 321.5h1M299 319.5h1M303 316.5h1M307 314.5h1M311 312.5h1M315 310.5h1M319 307.5h1M323 305.5h1M327 303.5h1M331 300.5h1M335 298.5h1M343 294.5h1M347 291.5h1M351 289.5h1M354 287.5h1M358 290.5h1M366 294.5h1M370 296.5h1M374 299.5h1M378 301.5h1M382 303.5h1M386 305.5h1M390 308.5h1M394 310.5h1M398 312.5h1M402 314.5h1M410 319.5h1M295 330.5h1M299 327.5h1M303 325.5h1M307 323.5h1M311 321.5h1M315 318.5h1M319 316.5h1M323 314.5h1M327 311.5h1M331 309.5h1M335 307.5h1M339 305.5h1M343 302.5h1M351 298.5h1M354 296.5h1M358 298.5h1M362 301.5h1M366 303.5h1M370 305.5h1M374 307.5h1M378 310.5h1M382 312.5h1M386 314.5h1M390 316.5h1M394 319.5h1M398 321.5h1M402 323.5h1M410 328.5h1M295 338.5h1M299 336.5h1M303 334.5h1M307 332.5h1M311 329.5h1M315 327.5h1M319 325.5h1M323 322.5h1M327 320.5h1M331 318.5h1M335 316.5h1M339 313.5h1M343 311.5h1M347 309.5h1M351 307.5h1M354 305.5h1M358 307.5h1M362 309.5h1M366 312.5h1M370 314.5h1M374 316.5h1M378 318.5h1M382 321.5h1M386 323.5h1M390 325.5h1M394 327.5h1M398 330.5h1M402 332.5h1M406 334.5h1M410 336.5h1" stroke="rgb(26,26,26)" stroke-opacity="0.25" stroke-width="1" fill="none" shape-rendering="crispEdges"/>
<path d="M347 256.5h1M347 300.5h1M362 369.5h1M406 317.5h1M406 325.5h1M339 296.5h1M325 339.5h1M362 292.5h1" stroke="rgb(26,26,26)" stroke-opacity="0.25" stroke-width="1" fill="none" shape-rendering="crispEdges"/>
<line x1="322.8" y1="298.6" x2="341" y2="307.2" stroke="#edb120" stroke-width="4.5"/>
<path d="M320 297 L323.2 296.6 L321.8 300" stroke="#000" stroke-width="1.4" fill="#000"/>
<line x1="355.5" y1="324" x2="355.5" y2="347.6" stroke="#7e2f8e" stroke-width="5"/>
<path d="M354.6 348.4 L357.8 348.4" stroke="#000" stroke-width="1.6"/>
<g stroke="#000" stroke-width="1.1" stroke-linejoin="round" fill="#0072bd">
<polygon points="354.7,294.7 370.9,302.6 354.2,313 338.8,305.9"/>
<polygon points="338.8,305.9 354.2,313 354.7,329.9 338.8,323.5"/>
<polygon points="354.2,313 370.9,302.6 371.5,319.3 354.7,329.9"/>
</g>
<line x1="328.4" y1="330.2" x2="346.4" y2="318.6" stroke="#d95319" stroke-width="4.8"/>
<path d="M326.2 329.4 L329 333.6 M327.4 328.8 L330 332.6" stroke="#000" stroke-width="1.3"/>
<g stroke="#262626" stroke-width="1" fill="none" shape-rendering="crispEdges">
<path d="M295.4 277.6L295.4 347.6" stroke-width="1"/>
<path d="M295.4 347.6L354.8 382.4" stroke-width="0.86"/>
<path d="M354.8 382.4L414.2 347.6" stroke-width="0.86"/>
<path d="M295.4 277.6L294.3 277.6"/>
<path d="M295.4 312.6L294.3 312.6"/>
<path d="M295.4 347.6L294.3 347.6"/>
<path d="M354.8 382.4L353.85 382.96"/>
<path d="M325.1 365L324.15 365.56"/>
<path d="M295.4 347.6L294.45 348.16"/>
<path d="M414.2 347.6L415.15 348.16"/>
<path d="M384.5 365L385.45 365.56"/>
<path d="M354.8 382.4L355.75 382.96"/>
</g>
<text x="290.9" y="280" font-size="10" text-anchor="end" font-weight="normal" fill="#262626" >-2</text>
<text x="290.9" y="314.2" font-size="10" text-anchor="end" font-weight="normal" fill="#262626" >0</text>
<text x="290.9" y="348.6" font-size="10" text-anchor="end" font-weight="normal" fill="#262626" >2</text>
<text x="287.2" y="359.6" font-size="10" text-anchor="middle" font-weight="normal" fill="#262626" >2</text>
<text x="316.3" y="376.9" font-size="10" text-anchor="middle" font-weight="normal" fill="#262626" >0</text>
<text x="345.1" y="394.7" font-size="10" text-anchor="middle" font-weight="normal" fill="#262626" >-2</text>
<text x="362.1" y="395" font-size="10" text-anchor="middle" font-weight="normal" fill="#262626" >2</text>
<text x="392.1" y="377.5" font-size="10" text-anchor="middle" font-weight="normal" fill="#262626" >0</text>
<text x="423.8" y="359.6" font-size="10" text-anchor="middle" font-weight="normal" fill="#262626" >-2</text>
<text x="295" y="399" font-size="11" text-anchor="middle" font-weight="normal" fill="#262626" >y (East)</text>
<text x="417.7" y="399" font-size="11" text-anchor="middle" font-weight="normal" fill="#262626" >x (North)</text>
<text transform="translate(275 313) rotate(-90)" font-size="11" text-anchor="middle" fill="#262626">z (Down)</text>
<text x="354.9" y="237.8" font-size="11" text-anchor="middle" font-weight="bold" fill="#000" >Orientation - Estimated</text>
</svg>
<div class="row" style="top:77px">
<div class="cb"><svg width="10" height="10" viewBox="0 0 10 10"><path d="M2.1 4.7 L4.4 7.6 L8.8 2.4" fill="none" stroke="#000" stroke-width="2.2"/></svg></div>
<div class="lbl">Accelero...</div>
<div class="dd"><span>100 Hz</span><i></i></div>
</div>
<div class="row" style="top:118px">
<div class="cb"><svg width="10" height="10" viewBox="0 0 10 10"><path d="M2.1 4.7 L4.4 7.6 L8.8 2.4" fill="none" stroke="#000" stroke-width="2.2"/></svg></div>
<div class="lbl">Gyroscope</div>
<div class="dd"><span>100 Hz</span><i></i></div>
</div>
<div class="row" style="top:159px">
<div class="cb"><svg width="10" height="10" viewBox="0 0 10 10"><path d="M2.1 4.7 L4.4 7.6 L8.8 2.4" fill="none" stroke="#000" stroke-width="2.2"/></svg></div>
<div class="lbl">Magneto...</div>
<div class="dd"><span>50 Hz</span><i></i></div>
</div>
<div class="row" style="top:200px">
<div class="cb"><svg width="10" height="10" viewBox="0 0 10 10"><path d="M2.1 4.7 L4.4 7.6 L8.8 2.4" fill="none" stroke="#000" stroke-width="2.2"/></svg></div>
<div class="lbl">GPS</div>
<div class="dd"><span>5 Hz</span><i></i></div>
</div>
</body></html>
